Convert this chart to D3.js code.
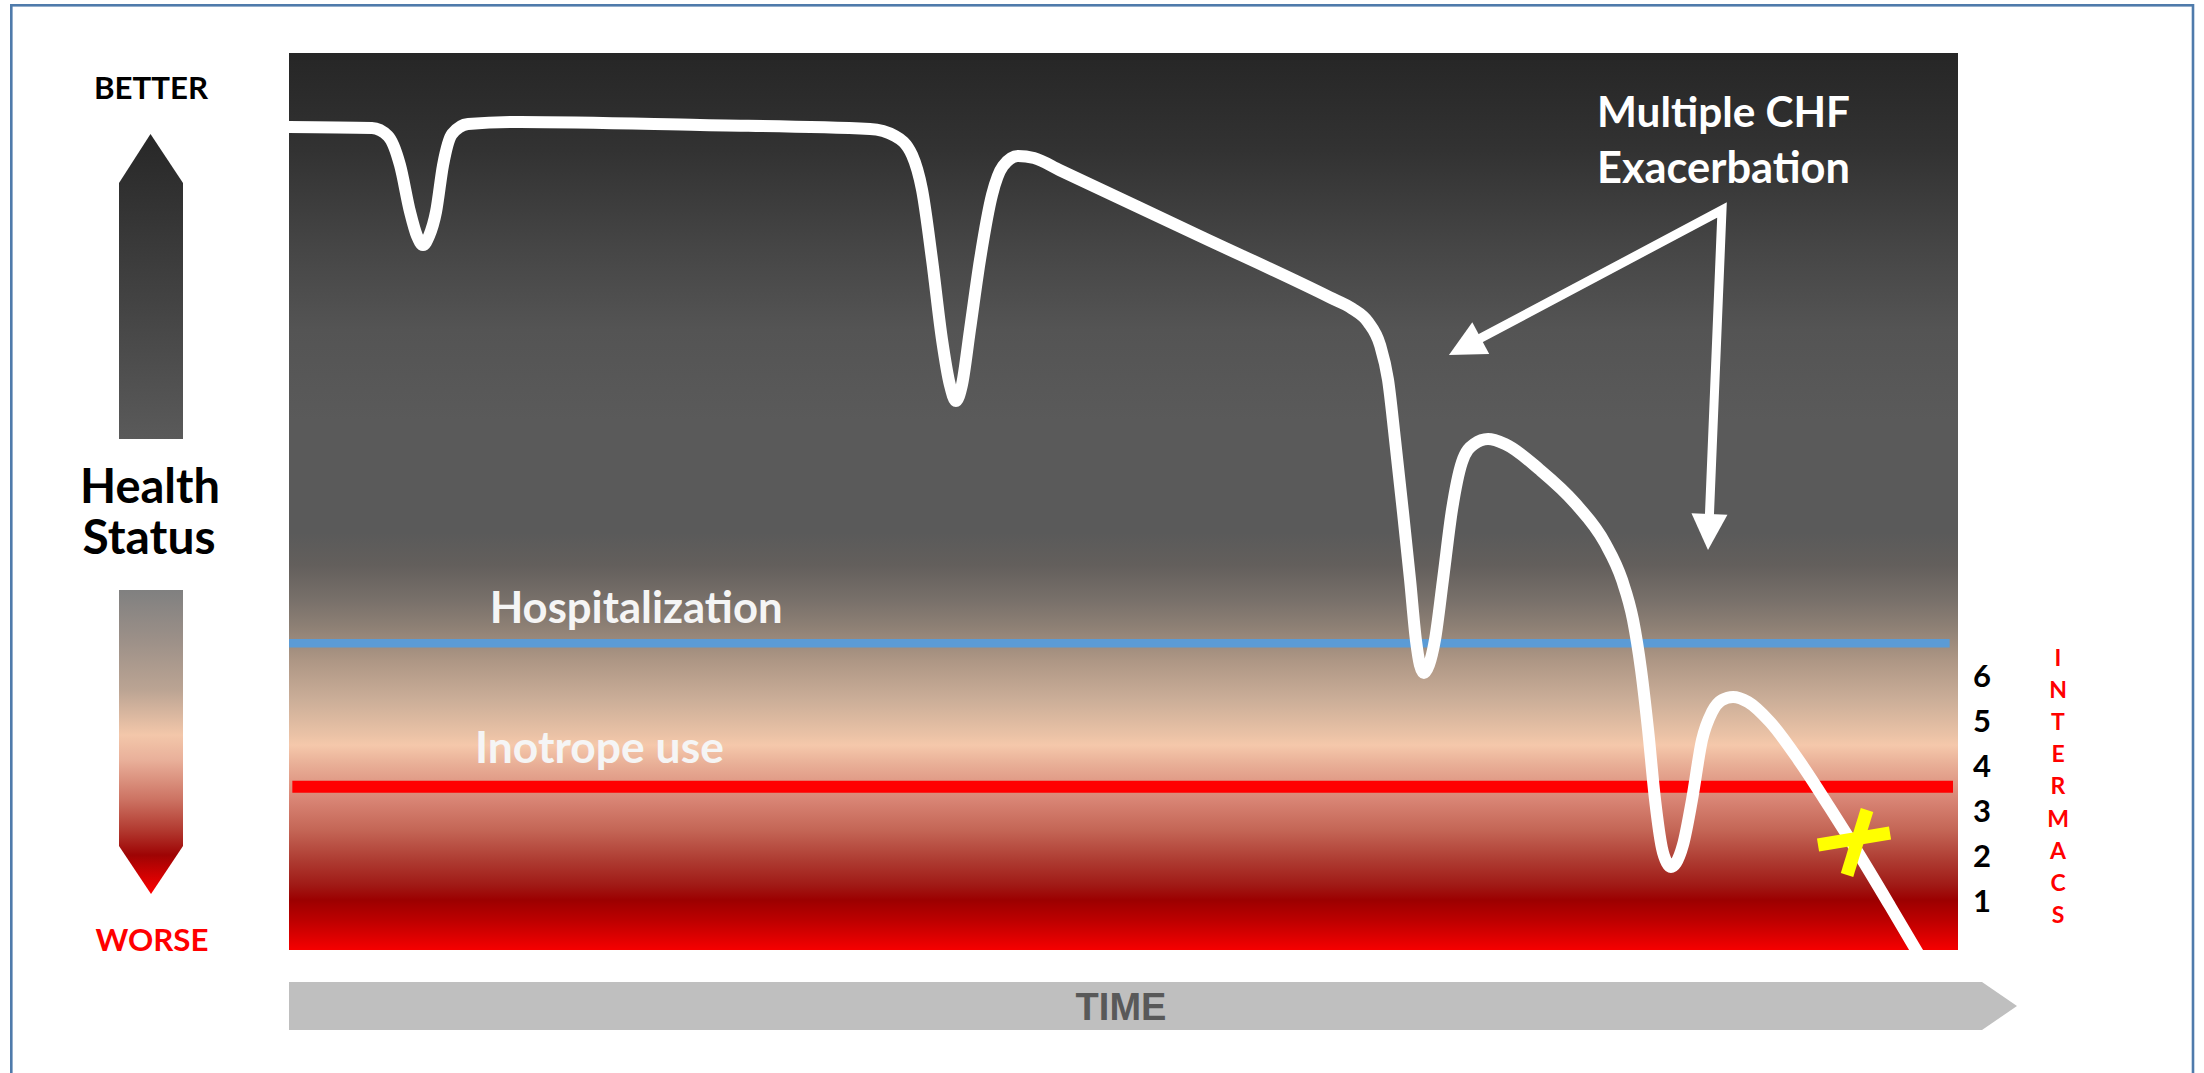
<!DOCTYPE html>
<html>
<head>
<meta charset="utf-8">
<script src="https://cdn.jsdelivr.net/npm/d3@7"></script>
<style>
  html, body { margin: 0; padding: 0; background: #ffffff; overflow: hidden; }
  svg { display: block; }
</style>
</head>
<body>
<svg id="chart" width="2204" height="1073"></svg>
<script>
// Health status trajectory of a heart-failure patient: [time, health status], both on 0–100 scales
const trajectory = [
  [0.0, 91.75], [4.97, 91.64], [5.93, 90.75], [6.65, 87.51], [7.25, 82.3], [7.67, 79.6],
  [8.03, 78.6], [8.39, 79.6], [8.81, 82.3], [9.23, 87.51], [9.77, 90.97], [10.73, 92.09],
  [13.84, 92.31], [24.63, 91.97], [34.81, 91.53], [36.31, 90.75], [37.33, 88.63],
  [37.93, 84.73], [38.53, 76.92], [39.13, 68.0], [39.6, 62.99], [39.96, 61.2],
  [40.32, 62.99], [40.8, 69.12], [41.4, 76.92], [42.12, 84.17], [42.78, 87.4],
  [43.68, 88.52], [44.64, 88.29], [46.19, 86.93], [54.58, 79.59], [62.37, 72.76],
  [63.69, 71.52], [64.65, 70.01], [65.37, 67.45], [65.85, 63.55], [66.27, 56.86],
  [66.75, 48.72], [67.17, 41.25], [67.52, 34.56], [67.76, 31.77], [68.0, 30.88],
  [68.3, 31.77], [68.66, 34.56], [69.14, 41.25], [69.68, 49.05], [70.28, 54.4],
  [71.0, 56.41], [71.84, 56.97], [72.86, 56.41], [74.96, 53.51], [77.05, 49.83],
  [78.85, 45.37], [79.87, 41.25], [80.53, 36.79], [81.01, 31.22], [81.43, 24.53],
  [81.85, 16.72], [82.26, 11.37], [82.56, 9.7], [82.8, 9.25], [83.1, 9.7],
  [83.52, 11.71], [84.06, 16.72], [84.66, 23.41], [85.26, 26.53], [85.86, 27.87],
  [86.52, 28.21], [87.42, 27.65], [88.74, 25.42], [90.53, 20.96], [92.33, 15.83],
  [94.13, 10.48], [95.93, 4.91], [97.9, -1.3]
];

// Care thresholds on the health-status scale
const thresholdNames = ["Hospitalization", "Inotrope use"];
const thresholdStatus = [34.2, 18.2];

// INTERMACS profile levels and the health status each one sits at
const intermacsLevels = ["6", "5", "4", "3", "2", "1"];
const intermacsStatus = [30.5, 25.5, 20.5, 15.5, 10.5, 5.5];
const intermacsLetters = ["I", "N", "T", "E", "R", "M", "A", "C", "S"];

// Death event on the trajectory: [time, status]
const deathEvent = [93.83, 12.26];

// Exacerbation call-out: label lines, arrow origin and arrow targets ([time, status])
const calloutLines = ["Multiple CHF", "Exacerbation"];
const calloutOrigin = [85.86, 82.5];
const calloutTargets = [[69.5, 66.33], [85.02, 44.59]];

const svg = d3.select("#chart");
const defs = svg.append("defs");

const plot = { left: 289, right: 1958, top: 53, bottom: 950 };
const x = d3.scaleLinear().domain([0, 100]).range([plot.left, plot.right]);
const y = d3.scaleLinear().domain([0, 100]).range([plot.bottom, plot.top]);

const bold = "Lato, 'Open Sans', sans-serif";

function fitWidth(sel, target) {
  const w = sel.node().getComputedTextLength();
  const fs = parseFloat(sel.attr("font-size"));
  if (w > 0) sel.attr("font-size", (fs * target / w).toFixed(2));
  return sel;
}

// ---- gradients ----
function verticalGradient(id, y1, y2, stops) {
  const g = defs.append("linearGradient")
    .attr("id", id).attr("gradientUnits", "userSpaceOnUse")
    .attr("x1", 0).attr("x2", 0).attr("y1", y1).attr("y2", y2);
  stops.forEach(([py, c]) => g.append("stop")
    .attr("offset", ((py - y1) / (y2 - y1)).toFixed(4)).attr("stop-color", c));
}

verticalGradient("bgGrad", plot.top, plot.bottom, [
  [53, "#262626"], [150, "#323232"], [250, "#464646"], [330, "#545454"],
  [420, "#5a5a5a"], [533, "#5a5a5a"], [565, "#635f5c"], [600, "#78706a"],
  [625, "#8c7f74"], [660, "#ad9684"], [700, "#cbae98"], [735, "#eac2a6"],
  [745, "#f5c8ab"], [765, "#e8ae96"], [800, "#d88474"], [830, "#c46656"],
  [860, "#ae3c32"], [885, "#a01a16"], [900, "#9c0000"], [920, "#bc0000"],
  [950, "#f60000"]
]);
verticalGradient("upGrad", 134, 439, [[134, "#272727"], [439, "#5a5a5a"]]);
verticalGradient("downGrad", 590, 894, [
  [590, "#808080"], [640, "#9c9088"], [690, "#bba493"], [735, "#f3c7aa"],
  [760, "#e9b09a"], [800, "#cc7262"], [830, "#b23a30"], [855, "#9e0404"],
  [894, "#ff0000"]
]);

defs.append("clipPath").attr("id", "plotClip")
  .append("rect").attr("x", plot.left).attr("y", plot.top)
  .attr("width", plot.right - plot.left).attr("height", plot.bottom - plot.top);

// ---- frame ----
svg.append("rect")
  .attr("x", 11.3).attr("y", 5.3).attr("width", 2181.7).attr("height", 1100)
  .attr("fill", "none").attr("stroke", "#4f7bab").attr("stroke-width", 2.6);

// ---- left legend: better / worse ----
svg.append("text").text("BETTER")
  .attr("x", 151).attr("y", 99).attr("text-anchor", "middle")
  .attr("font-family", bold).attr("font-weight", 700).attr("font-size", 30)
  .attr("fill", "#000").call(s => fitWidth(s, 114));

svg.append("path")
  .attr("d", "M119,439 L119,183 L150.5,134 L183,183 L183,439 Z")
  .attr("fill", "url(#upGrad)");

svg.append("text").text("Health")
  .attr("x", 150).attr("y", 503).attr("text-anchor", "middle")
  .attr("font-family", bold).attr("font-weight", 700).attr("font-size", 46)
  .attr("fill", "#000").call(s => fitWidth(s, 140));
svg.append("text").text("Status")
  .attr("x", 149).attr("y", 554).attr("text-anchor", "middle")
  .attr("font-family", bold).attr("font-weight", 700).attr("font-size", 46)
  .attr("fill", "#000").call(s => fitWidth(s, 133));

svg.append("path")
  .attr("d", "M119,590 L183,590 L183,846 L151,894 L119,846 Z")
  .attr("fill", "url(#downGrad)");

svg.append("text").text("WORSE")
  .attr("x", 152).attr("y", 951).attr("text-anchor", "middle")
  .attr("font-family", bold).attr("font-weight", 700).attr("font-size", 30)
  .attr("fill", "#ff0000").call(s => fitWidth(s, 113));

// ---- plot background ----
svg.append("rect")
  .attr("x", plot.left).attr("y", plot.top)
  .attr("width", plot.right - plot.left).attr("height", plot.bottom - plot.top)
  .attr("fill", "url(#bgGrad)");

// ---- threshold lines ----
const thresholdColors = ["#5b9bd5", "#ff0000"];
const thresholdWidths = [8.5, 12];
const thresholdSpan = [[0, 99.5], [0.2, 99.7]];
thresholdStatus.forEach((s, i) => {
  svg.append("line")
    .attr("x1", x(thresholdSpan[i][0])).attr("x2", x(thresholdSpan[i][1]))
    .attr("y1", y(s)).attr("y2", y(s))
    .attr("stroke", thresholdColors[i]).attr("stroke-width", thresholdWidths[i]);
});

// threshold labels
const labelCenters = [20.8, 18.6];
const labelRise = [20, 24];
const labelWidths = [293, 249];
thresholdNames.forEach((name, i) => {
  svg.append("text").text(name)
    .attr("x", x(labelCenters[i])).attr("y", y(thresholdStatus[i]) - labelRise[i])
    .attr("text-anchor", "middle")
    .attr("font-family", bold).attr("font-weight", 700).attr("font-size", 40)
    .attr("fill", "#f5f5f5").call(s => fitWidth(s, labelWidths[i]));
});

// ---- health trajectory ----
const line = d3.line()
  .x(d => x(d[0])).y(d => y(d[1]))
  .curve(d3.curveMonotoneX);

svg.append("path")
  .datum(trajectory)
  .attr("clip-path", "url(#plotClip)")
  .attr("d", line)
  .attr("fill", "none").attr("stroke", "#ffffff")
  .attr("stroke-width", 12).attr("stroke-linecap", "round").attr("stroke-linejoin", "round");

// ---- exacerbation call-out ----
calloutLines.forEach((t, i) => {
  svg.append("text").text(t)
    .attr("x", 1723.5).attr("y", 127 + i * 56).attr("text-anchor", "middle")
    .attr("font-family", bold).attr("font-weight", 700).attr("font-size", 40)
    .attr("fill", "#ffffff").call(s => fitWidth(s, 253));
});

const headLen = 36, headHalf = 18, shaftW = 9;
const origin = [x(calloutOrigin[0]), y(calloutOrigin[1])];
const shaftEnds = calloutTargets.map(tg => {
  const tip = [x(tg[0]), y(tg[1])];
  const dx = tip[0] - origin[0], dy = tip[1] - origin[1];
  const len = Math.hypot(dx, dy);
  const ux = dx / len, uy = dy / len;
  const base = [tip[0] - ux * headLen, tip[1] - uy * headLen];
  svg.append("path")
    .attr("d", `M${tip[0]},${tip[1]} L${base[0] - uy * headHalf},${base[1] + ux * headHalf} L${base[0] + uy * headHalf},${base[1] - ux * headHalf} Z`)
    .attr("fill", "#ffffff");
  return [base[0] + ux * 2, base[1] + uy * 2];
});
svg.append("path")
  .attr("d", `M${shaftEnds[0][0]},${shaftEnds[0][1]} L${origin[0]},${origin[1]} L${shaftEnds[1][0]},${shaftEnds[1][1]}`)
  .attr("fill", "none").attr("stroke", "#ffffff").attr("stroke-width", shaftW)
  .attr("stroke-linejoin", "miter").attr("stroke-miterlimit", 6);

// ---- death marker ----
const cx = x(deathEvent[0]), cy = y(deathEvent[1]);
const crossStrokes = [[[-37, 5], [35, -7]], [[-8, 35], [12, -30]]];
svg.append("g").selectAll("line").data(crossStrokes).join("line")
  .attr("x1", d => cx + d[0][0]).attr("y1", d => cy + d[0][1])
  .attr("x2", d => cx + d[1][0]).attr("y2", d => cy + d[1][1])
  .attr("stroke", "#ffff00").attr("stroke-width", 13).attr("stroke-linecap", "butt");

// ---- INTERMACS scale ----
svg.append("g").selectAll("text").data(intermacsLevels).join("text")
  .text(d => d)
  .attr("x", 1982).attr("y", (d, i) => y(intermacsStatus[i]) + 11)
  .attr("text-anchor", "middle")
  .attr("font-family", bold).attr("font-weight", 700).attr("font-size", 31)
  .attr("fill", "#000000");

svg.append("g").selectAll("text").data(intermacsLetters).join("text")
  .text(d => d)
  .attr("x", 2058).attr("y", (d, i) => 666 + i * 32.1)
  .attr("text-anchor", "middle")
  .attr("font-family", bold).attr("font-weight", 700).attr("font-size", 23)
  .attr("fill", "#ff0000");

// ---- time arrow ----
svg.append("path")
  .attr("d", `M${plot.left},982 L1982,982 L2017,1006 L1982,1030 L${plot.left},1030 Z`)
  .attr("fill", "#bfbfbf");
svg.append("text").text("TIME")
  .attr("x", 1121).attr("y", 1020).attr("text-anchor", "middle")
  .attr("font-family", "'Liberation Sans', Arial, sans-serif").attr("font-weight", 700)
  .attr("font-size", 38).attr("fill", "#595959");
</script>
</body>
</html>
